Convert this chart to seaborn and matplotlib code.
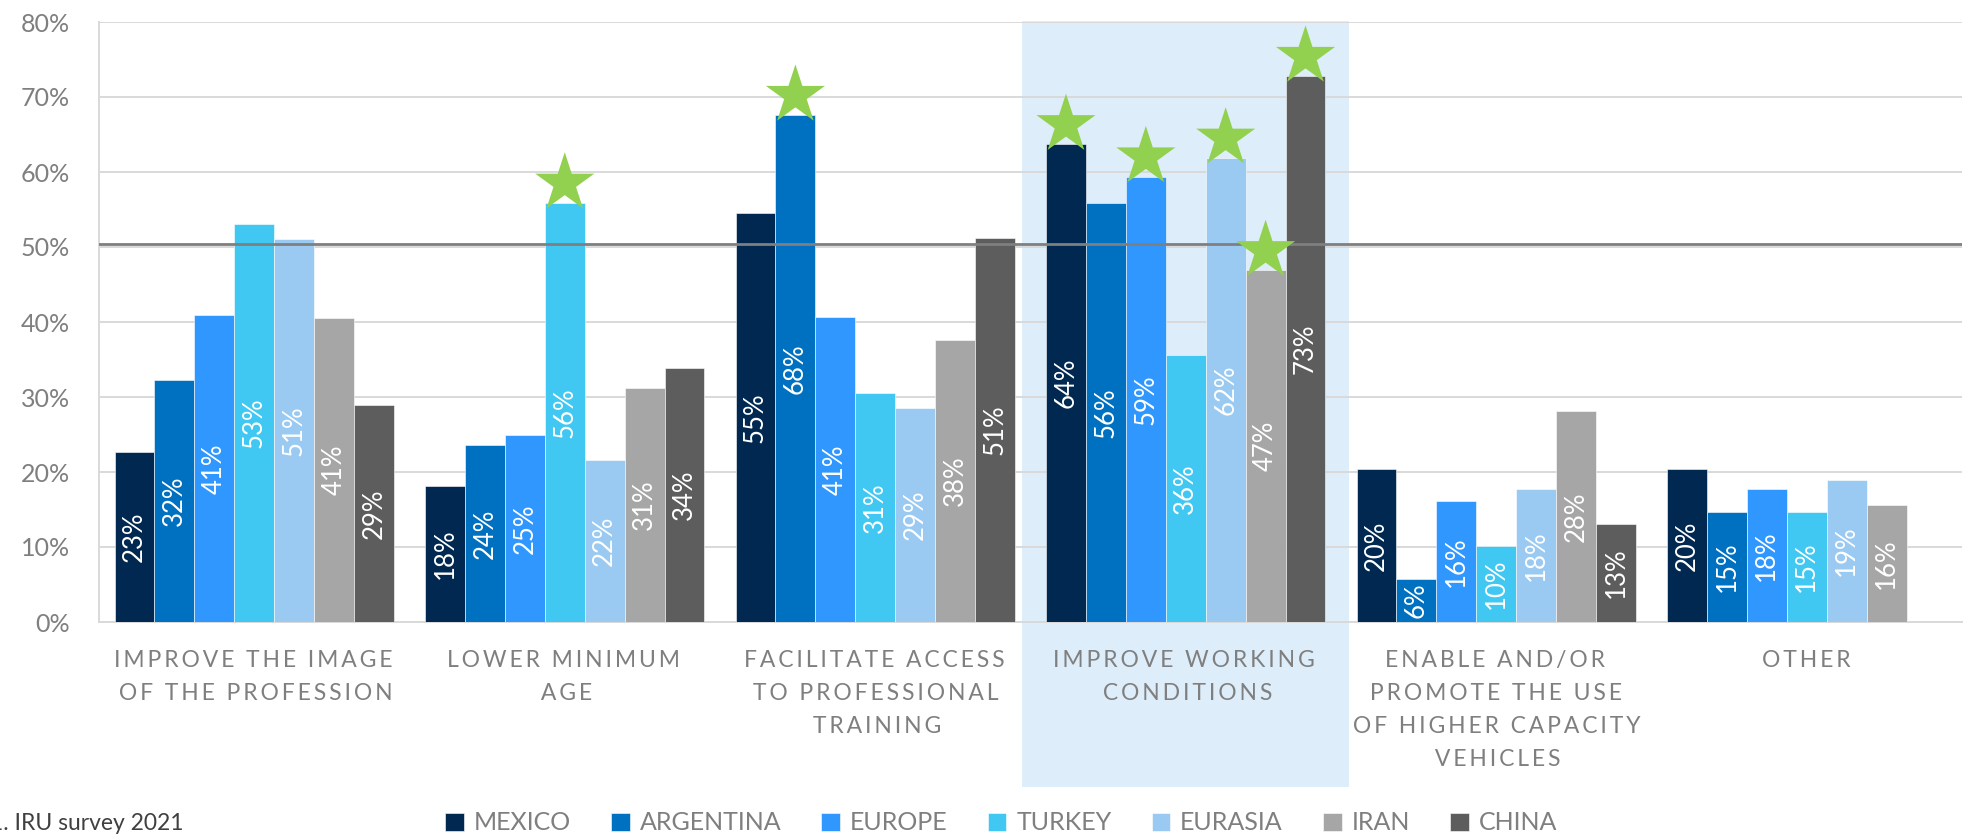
import matplotlib
matplotlib.use("Agg")
import matplotlib.pyplot as plt
import matplotlib.transforms as mtransforms
from matplotlib.patches import Rectangle
import seaborn as sns
import pandas as pd
import numpy as np

categories = [
    "IMPROVE THE IMAGE\nOF THE PROFESSION",
    "LOWER MINIMUM\nAGE",
    "FACILITATE ACCESS\nTO PROFESSIONAL\nTRAINING",
    "IMPROVE WORKING\nCONDITIONS",
    "ENABLE AND/OR\nPROMOTE THE USE\nOF HIGHER CAPACITY\nVEHICLES",
    "OTHER",
]
countries = ["MEXICO", "ARGENTINA", "EUROPE", "TURKEY", "EURASIA", "IRAN", "CHINA"]

mexico    = [22.7, 18.2, 54.6, 63.7, 20.4, 20.4]
argentina = [32.3, 23.6, 67.6, 55.9, 5.8, 14.7]
europe    = [40.9, 24.9, 40.7, 59.4, 16.2, 17.7]
turkey    = [53.1, 55.9, 30.6, 35.6, 10.1, 14.7]
eurasia   = [51.1, 21.6, 28.6, 61.9, 17.8, 19.0]
iran      = [40.6, 31.2, 37.6, 46.9, 28.2, 15.6]
china     = [28.9, 33.9, 51.2, 72.8, 13.1, np.nan]

# stars (highest-ranked per region) as (category index, country)
stars = [(1, "TURKEY"), (2, "ARGENTINA"), (3, "MEXICO"), (3, "EUROPE"),
         (3, "EURASIA"), (3, "IRAN"), (3, "CHINA")]

reference_line = 50.4
highlight_category = 3
yticks = [0, 10, 20, 30, 40, 50, 60, 70, 80]
footnote = "1. IRU survey 2021"

palette = ["#002851", "#0070C0", "#3097FF", "#40C8F2", "#9ACAF2", "#A6A6A6", "#5D5D5D"]

series = [mexico, argentina, europe, turkey, eurasia, iran, china]
rows = []
for c, vals in zip(countries, series):
    for cat, v in zip(categories, vals):
        rows.append({"category": cat, "country": c, "value": v})
df = pd.DataFrame(rows)

sns.set_style("white")
plt.rcParams["font.family"] = ["Lato", "DejaVu Sans"]

W, H = 1963, 836
fig = plt.figure(figsize=(W / 100, H / 100), dpi=100)
ax = fig.add_axes([99 / W, 1 - 622 / H, (1962 - 99) / W, 600 / H])

sns.barplot(data=df, x="category", y="value", hue="country", order=categories,
            hue_order=countries, palette=palette, saturation=1, width=0.9,
            dodge=True, ax=ax, errorbar=None, edgecolor="#FFFFFF", linewidth=0.4,
            zorder=2)

ax.set_ylim(0, 80)
ax.set_xlim(-0.5, len(categories) - 0.5)
ax.set_yticks(yticks)
ax.set_yticklabels([f"{t}%" for t in yticks])
ax.set_xlabel("")
ax.set_ylabel("")

grid_c = "#D9D9D9"
ax.set_axisbelow(True)
ax.yaxis.grid(True, color=grid_c, linewidth=1.4, zorder=0.5)
ax.xaxis.grid(False)
for s in ["top", "right"]:
    ax.spines[s].set_visible(False)
for s in ["left", "bottom"]:
    ax.spines[s].set_color(grid_c)
    ax.spines[s].set_linewidth(1.4)
    ax.spines[s].set_zorder(0.6)

ax.tick_params(axis="y", length=7, width=1.4, color=grid_c, pad=14,
               labelsize=18, labelcolor="#7F7F7F")
ax.tick_params(axis="x", length=0, pad=20, labelsize=16.5, labelcolor="#7F7F7F")
ax.set_xticks(range(len(categories)))
ax.set_xticklabels(["\u2009".join(c) for c in categories], linespacing=1.72,
                   family=["Lato", "DejaVu Sans"], va="top")

# highlight band
trans = mtransforms.blended_transform_factory(ax.transData, ax.transAxes)
ax.add_patch(Rectangle((highlight_category - 0.526, -0.275), 1.052, 1.277,
                       transform=trans, facecolor="#DDEDF9", edgecolor="none",
                       zorder=0.2, clip_on=False))

# reference line
ax.axhline(reference_line, color="#7F7F7F", linewidth=2, zorder=5)

# value labels and stars
for cont, country in zip(ax.containers, countries):
    for bar in cont:
        h = bar.get_height()
        if np.isnan(h):
            continue
        xc = bar.get_x() + bar.get_width() / 2
        ax.text(xc, h / 2, f"{h:.0f}%", rotation=90, ha="center", va="center",
                color="white", fontsize=18.5, zorder=6)
        ci = int(round(xc))
        if (ci, country) in stars:
            ax.scatter([xc], [h + 2.6], marker="*", s=2000, color="#92D050",
                       edgecolors="none", zorder=7, clip_on=False)

# legend
handles, labels = ax.get_legend_handles_labels()
if ax.get_legend() is not None:
    ax.get_legend().remove()
fig.legend(handles, labels, loc="center", bbox_to_anchor=(1001 / W, 1 - 823 / H),
           ncol=7, frameon=False, fontsize=18, labelcolor="#7F7F7F",
           handlelength=0.75, handleheight=0.75, handletextpad=0.4,
           columnspacing=1.6, borderaxespad=0)

fig.text(-10 / W, 1 - 823 / H, footnote, ha="left", va="center", fontsize=16.5,
         color="#404040")

fig.savefig("out.png", dpi=100)
